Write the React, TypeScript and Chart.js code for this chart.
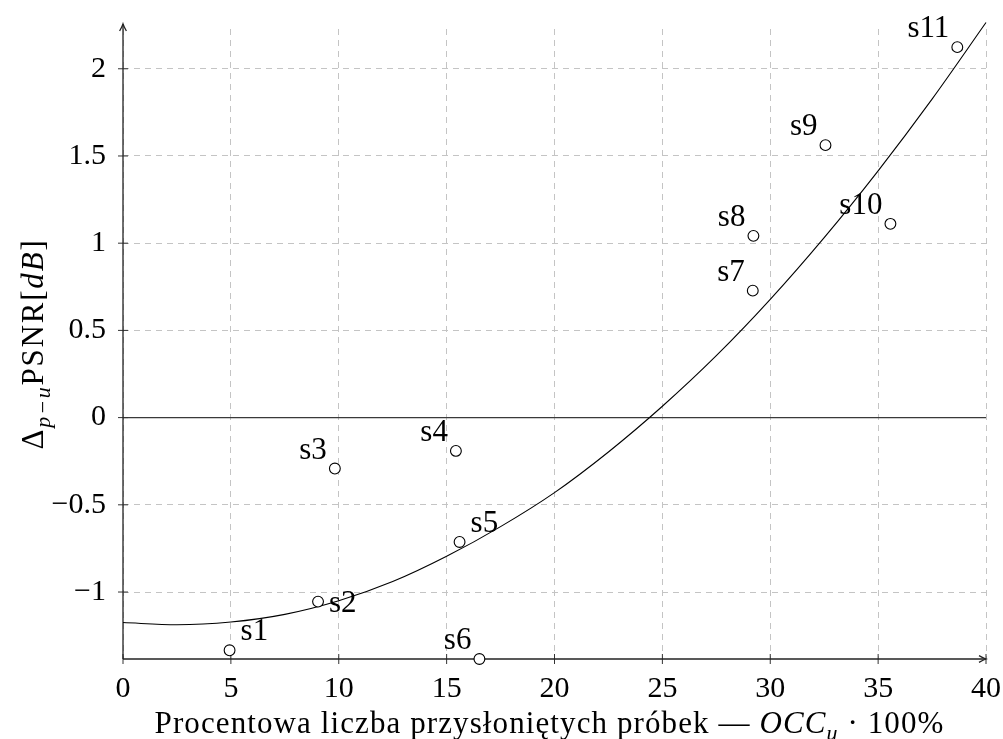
import React, { useEffect, useRef } from 'react';
import { Chart, registerables } from 'chart.js';

Chart.register(...registerables);

// ---- data ----
const sampleLabels = ['s1', 's2', 's3', 's4', 's5', 's6', 's7', 's8', 's9', 's10', 's11'];
const occValues = [4.94, 9.04, 9.82, 15.43, 15.6, 16.52, 29.19, 29.22, 32.56, 35.57, 38.67];
const psnrDelta = [-1.334, -1.055, -0.292, -0.191, -0.713, -1.384, 0.728, 1.042, 1.562, 1.111, 2.124];
const labelPlacement = ['ne', 'e', 'nw', 'nw', 'ne', 'nw', 'nw', 'nw', 'nw', 'nw', 'nw'];

const trendX = [0, 2.5, 5, 7.5, 10, 12.5, 15, 17.5, 20, 22.5, 25, 27.5, 30, 32.5, 35, 37.5, 40];
const trendY = [-1.175, -1.188, -1.172, -1.128, -1.05, -0.94, -0.795, -0.625, -0.43, -0.197, 0.065, 0.355, 0.678, 1.032, 1.415, 1.826, 2.265];

const xTicks = [0, 5, 10, 15, 20, 25, 30, 35, 40];
const yTicks = [-1, -0.5, 0, 0.5, 1, 1.5, 2];

const X_MIN = 0;
const X_MAX = 40;
const Y_MIN = -1.384;
const Y_MAX = 2.228;

const FAMILY = '"Liberation Serif", "Times New Roman", serif';
const FS = 30;
const TITLE_FS = 31;

type Seg = { t: string; i?: boolean; sub?: boolean };

function drawRich(ctx: CanvasRenderingContext2D, segs: Seg[], cx: number, baseline: number, size: number, spacing: number) {
  const fontFor = (s: Seg) => `${s.i ? 'italic ' : ''}${s.sub ? Math.round(size * 0.7) : size}px ${FAMILY}`;
  (ctx as any).letterSpacing = `${spacing}px`;
  let total = 0;
  const widths = segs.map((s) => {
    ctx.font = fontFor(s);
    const w = ctx.measureText(s.t).width;
    total += w;
    return w;
  });
  let x = cx - total / 2;
  ctx.textAlign = 'left';
  ctx.textBaseline = 'alphabetic';
  segs.forEach((s, k) => {
    ctx.font = fontFor(s);
    ctx.fillText(s.t, x, baseline + (s.sub ? size * 0.22 : 0));
    x += widths[k];
  });
  (ctx as any).letterSpacing = '0px';
}

function line(ctx: CanvasRenderingContext2D, x1: number, y1: number, x2: number, y2: number) {
  ctx.beginPath();
  ctx.moveTo(x1, y1);
  ctx.lineTo(x2, y2);
  ctx.stroke();
}

function arrowHead(ctx: CanvasRenderingContext2D, x: number, y: number, angle: number) {
  ctx.save();
  ctx.translate(x, y);
  ctx.rotate(angle);
  ctx.beginPath();
  ctx.moveTo(-7, -3.4);
  ctx.quadraticCurveTo(-2.5, -0.8, 0, 0);
  ctx.quadraticCurveTo(-2.5, 0.8, -7, 3.4);
  ctx.stroke();
  ctx.restore();
}

const axesPlugin = {
  id: 'axesPlugin',
  beforeDatasetsDraw(chart: any) {
    const { ctx, chartArea, scales } = chart;
    const { left, right, top, bottom } = chartArea;
    const xs = scales.x;
    const ys = scales.y;
    ctx.save();
    ctx.setLineDash([]);
    // zero line
    ctx.strokeStyle = '#3a3a3a';
    ctx.lineWidth = 1.2;
    const y0 = ys.getPixelForValue(0);
    line(ctx, left, y0, right, y0);
    // tick marks
    ctx.strokeStyle = '#333';
    ctx.lineWidth = 1;
    xTicks.forEach((v) => {
      const px = xs.getPixelForValue(v);
      line(ctx, px, bottom - 5, px, bottom + 5);
    });
    yTicks.forEach((v) => {
      const py = ys.getPixelForValue(v);
      line(ctx, left - 5, py, left + 5, py);
    });
    // axes
    ctx.strokeStyle = '#222';
    ctx.lineWidth = 1.3;
    line(ctx, left, bottom, left, top - 5);
    arrowHead(ctx, left, top - 5, -Math.PI / 2);
    line(ctx, left, bottom, right, bottom);
    arrowHead(ctx, right, bottom, 0);
    ctx.restore();
  },
  afterDatasetsDraw(chart: any) {
    const { ctx, chartArea } = chart;
    const meta = chart.getDatasetMeta(0);
    ctx.save();
    ctx.fillStyle = '#000';
    ctx.font = `${TITLE_FS}px ${FAMILY}`;
    ctx.textBaseline = 'alphabetic';
    meta.data.forEach((pt: any, i: number) => {
      const p = labelPlacement[i];
      const txt = sampleLabels[i];
      if (p === 'nw') {
        ctx.textAlign = 'right';
        ctx.fillText(txt, pt.x - 8, pt.y - 10);
      } else if (p === 'ne') {
        ctx.textAlign = 'left';
        ctx.fillText(txt, pt.x + 11, pt.y - 10);
      } else {
        ctx.textAlign = 'left';
        ctx.fillText(txt, pt.x + 11, pt.y + 10);
      }
    });
    // axis titles
    const cx = (chartArea.left + chartArea.right) / 2;
    drawRich(
      ctx,
      [
        { t: 'Procentowa liczba przysłoniętych próbek — ' },
        { t: 'OCC', i: true },
        { t: 'u', i: true, sub: true },
        { t: ' · 100%' },
      ],
      cx - 5,
      733,
      TITLE_FS,
      1.1
    );
    const cy = (chartArea.top + chartArea.bottom) / 2;
    ctx.save();
    ctx.translate(43, cy);
    ctx.rotate(-Math.PI / 2);
    drawRich(
      ctx,
      [
        { t: 'Δ' },
        { t: 'p−u', i: true, sub: true },
        { t: 'PSNR' },
        { t: '[' },
        { t: 'dB', i: true },
        { t: ']' },
      ],
      0,
      0,
      TITLE_FS,
      1.8
    );
    ctx.restore();
    ctx.restore();
  },
};

const fmt = (v: number) => (v < 0 ? '−' + String(Math.abs(v)) : String(v));

const zeroPad = (s: any) => {
  s.paddingLeft = 0;
  s.paddingRight = 0;
  s.paddingTop = 0;
  s.paddingBottom = 0;
};

export default function App() {
  const ref = useRef<HTMLCanvasElement | null>(null);

  useEffect(() => {
    document.body.style.margin = '0';
    const canvas = ref.current;
    if (!canvas) return;
    const chart = new Chart(canvas, {
      type: 'scatter',
      data: {
        datasets: [
          {
            label: 'samples',
            data: occValues.map((x, i) => ({ x, y: psnrDelta[i] })),
            showLine: false,
            pointStyle: 'circle',
            pointRadius: 5.4,
            pointBorderWidth: 1.1,
            pointBorderColor: '#000',
            pointBackgroundColor: '#fff',
            clip: false as any,
          },
          {
            label: 'trend',
            data: trendX.map((x, i) => ({ x, y: trendY[i] })),
            showLine: true,
            pointRadius: 0,
            borderColor: '#000',
            borderWidth: 1.1,
            cubicInterpolationMode: 'monotone',
            clip: false as any,
          } as any,
        ],
      },
      options: {
        responsive: false,
        animation: false,
        devicePixelRatio: 1,
        events: [],
        layout: { padding: { left: 0, right: 17, top: 29, bottom: 0 } },
        plugins: {
          legend: { display: false },
          tooltip: { enabled: false },
        },
        scales: {
          x: {
            type: 'linear',
            min: X_MIN,
            max: X_MAX,
            afterBuildTicks: (s: any) => {
              s.ticks = xTicks.map((v) => ({ value: v }));
            },
            afterFit: (s: any) => {
              s.height = 80;
              zeroPad(s);
            },
            grid: { color: '#c4c4c4', lineWidth: 1, drawTicks: false },
            border: { display: false, dash: [6, 5] },
            ticks: {
              font: { family: FAMILY, size: FS },
              color: '#000',
              padding: 12,
              maxRotation: 0,
              autoSkip: false,
              callback: (v: any) => fmt(Number(v)),
            },
          },
          y: {
            type: 'linear',
            min: Y_MIN,
            max: Y_MAX,
            afterBuildTicks: (s: any) => {
              s.ticks = yTicks.map((v) => ({ value: v }));
            },
            afterFit: (s: any) => {
              s.width = 123;
              zeroPad(s);
            },
            grid: { color: '#c4c4c4', lineWidth: 1, drawTicks: false },
            border: { display: false, dash: [6, 5] },
            ticks: {
              font: { family: FAMILY, size: FS },
              color: '#000',
              padding: 17,
              autoSkip: false,
              callback: (v: any) => fmt(Number(v)),
            },
          },
        },
      },
      plugins: [axesPlugin],
    } as any);
    return () => chart.destroy();
  }, []);

  return (
    <div style={{ position: 'absolute', left: 0, top: 0, width: 1003, height: 739, background: '#fff' }}>
      <canvas ref={ref} width={1003} height={739} style={{ width: 1003, height: 739, display: 'block' }} />
    </div>
  );
}
